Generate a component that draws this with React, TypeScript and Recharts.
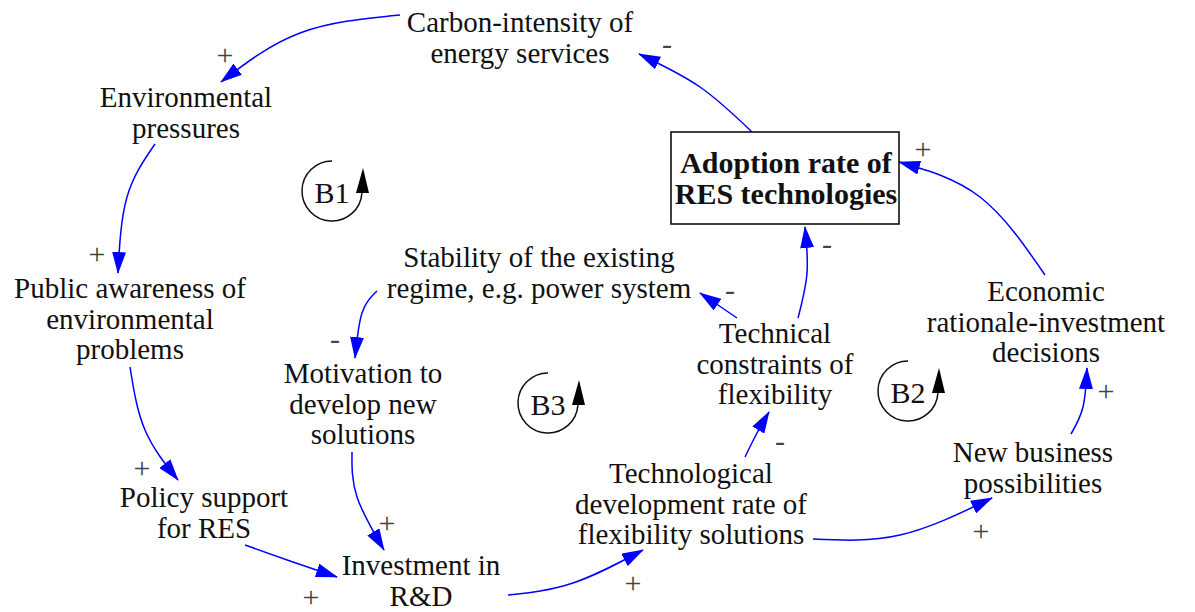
// causal loop diagram drawn on hidden number axes

import { ComposedChart, Line, Scatter, XAxis, YAxis } from "recharts";

const W = 1195;
const H = 612;

// text nodes: x = centre, y = baseline of first line (pixel-like units)
const nodes = [
  { id: "carbon", x: 520, y: 32, lines: ["Carbon-intensity of", "energy services"] },
  { id: "env", x: 186, y: 107, lines: ["Environmental", "pressures"] },
  { id: "public", x: 130, y: 298, lines: ["Public awareness of", "environmental", "problems"] },
  { id: "policy", x: 204, y: 507, lines: ["Policy support", "for RES"] },
  { id: "invest", x: 421, y: 575, lines: ["Investment in", "R&D"] },
  { id: "techdev", x: 691, y: 483, lines: ["Technological", "development rate of", "flexibility solutions"] },
  { id: "business", x: 1033, y: 462, lines: ["New business", "possibilities"] },
  { id: "economic", x: 1046, y: 301, lines: ["Economic", "rationale-investment", "decisions"] },
  { id: "constraints", x: 775, y: 343, lines: ["Technical", "constraints of", "flexibility"] },
  { id: "stability", x: 539, y: 267, lines: ["Stability of the existing", "regime, e.g. power system"] },
  { id: "motivation", x: 363, y: 383, lines: ["Motivation to", "develop new", "solutions"] },
];

const mainNode = [{ x: 786, y: 173, lines: ["Adoption rate of", "RES technologies"] }];

// links: start, a point on the curve, arrow tip
const links = [
  { id: "carbon-env", pts: [[400, 15], [300, 33], [221, 82]] },
  { id: "env-public", pts: [[155, 144], [127, 197], [118, 273]] },
  { id: "public-policy", pts: [[130, 367], [145, 430], [178, 480]] },
  { id: "policy-invest", pts: [[245, 545], [290, 561], [337, 577]] },
  { id: "invest-techdev", pts: [[508, 595], [573, 583], [643, 550]] },
  { id: "motivation-invest", pts: [[352, 452], [357, 497], [384, 550]] },
  { id: "stability-motivation", pts: [[377, 291], [362, 313], [355, 358]] },
  { id: "constraints-stability", pts: [[737, 318], [718, 305], [700, 293]] },
  { id: "constraints-adoption", pts: [[798, 318], [807, 273], [805, 227]] },
  { id: "techdev-constraints", pts: [[745, 457], [757, 433], [769, 412]] },
  { id: "techdev-business", pts: [[813, 539], [900, 535], [992, 498]] },
  { id: "business-economic", pts: [[1071, 434], [1083, 407], [1087, 368]] },
  { id: "economic-adoption", pts: [[1045, 275], [980, 197], [899, 162]] },
  { id: "adoption-carbon", pts: [[752, 132], [700, 87], [639, 54]] },
];

const signs = [
  { x: 225, y: 54, s: "+" },
  { x: 97, y: 253, s: "+" },
  { x: 142, y: 467, s: "+" },
  { x: 311, y: 596, s: "+" },
  { x: 633, y: 582, s: "+" },
  { x: 387, y: 522, s: "+" },
  { x: 335, y: 338, s: "-" },
  { x: 730, y: 289, s: "-" },
  { x: 827, y: 243, s: "-" },
  { x: 780, y: 440, s: "-" },
  { x: 981, y: 530, s: "+" },
  { x: 1106, y: 390, s: "+" },
  { x: 923, y: 148, s: "+" },
  { x: 667, y: 43, s: "-" },
];

const loops = [
  { x: 332, y: 191, name: "B1" },
  { x: 548, y: 403, name: "B3" },
  { x: 908, y: 391, name: "B2" },
];

const FONT = "'Liberation Serif', 'Times New Roman', serif";
const LH = 30.5;

function NodeShape(props: any) {
  const { cx, cy, payload } = props;
  return (
    <text x={cx} y={cy} textAnchor="middle" fontFamily={FONT} fontSize={29} fill="#111">
      {payload.lines.map((l: string, i: number) => (
        <tspan key={i} x={cx} dy={i === 0 ? 0 : LH}>
          {l}
        </tspan>
      ))}
    </text>
  );
}

function MainShape(props: any) {
  const { cx, cy, payload } = props;
  return (
    <g>
      <rect x={cx - 115} y={cy - 41} width={228} height={92} fill="#fff" stroke="#111" strokeWidth={1.6} />
      <text x={cx} y={cy} textAnchor="middle" fontFamily={FONT} fontSize={30} fontWeight="bold" fill="#111">
        {payload.lines.map((l: string, i: number) => (
          <tspan key={i} x={cx} dy={i === 0 ? 0 : 31}>
            {l}
          </tspan>
        ))}
      </text>
    </g>
  );
}

function SignShape(props: any) {
  const { cx, cy, payload } = props;
  return (
    <text x={cx} y={cy} textAnchor="middle" dominantBaseline="central" fontFamily={FONT} fontSize={30} fill="#444">
      {payload.s}
    </text>
  );
}

function LoopShape(props: any) {
  const { cx, cy, payload } = props;
  const r = 30;
  const ex = cx + r * Math.cos(0.07);
  const ey = cy + r * Math.sin(0.07);
  return (
    <g>
      <path d={`M${cx},${cy - r} A${r},${r} 0 1 0 ${ex},${ey}`} fill="none" stroke="#111" strokeWidth={1.5} />
      <path d={`M${cx + 24},${cy + 2} L${cx + 31},${cy - 23} L${cx + 37},${cy + 2} Z`} fill="#000" />
      <text x={cx} y={cy + 1} textAnchor="middle" dominantBaseline="central" fontFamily={FONT} fontSize={30} fill="#111">
        {payload.name}
      </text>
    </g>
  );
}

export default function App() {
  return (
    <div style={{ width: W, height: H, position: "relative", background: "#fff" }}>
      <style>{"body{margin:0}"}</style>
      <svg width={0} height={0} style={{ position: "absolute" }}>
        <defs>
          <marker
            id="blueHead"
            markerUnits="userSpaceOnUse"
            viewBox="0 0 22 14"
            markerWidth={22}
            markerHeight={14}
            refX={21}
            refY={7}
            orient="auto"
          >
            <path d="M0,0 L22,7 L0,14 Z" fill="#0000ff" />
          </marker>
        </defs>
      </svg>
      <ComposedChart width={W} height={H} margin={{ top: 0, right: 0, bottom: 0, left: 0 }}>
        <XAxis type="number" dataKey="x" domain={[0, W]} hide allowDataOverflow />
        <YAxis type="number" dataKey="y" domain={[0, H]} reversed hide allowDataOverflow />
        {links.map((lk) => (
          <Line
            key={lk.id}
            data={lk.pts.map(([x, y]) => ({ x, y }))}
            dataKey="y"
            type="natural"
            stroke="#0000ff"
            strokeWidth={1.5}
            dot={false}
            activeDot={false}
            markerEnd="url(#blueHead)"
            isAnimationActive={false}
          />
        ))}
        <Scatter data={nodes} dataKey="y" shape={NodeShape} isAnimationActive={false} />
        <Scatter data={mainNode} dataKey="y" shape={MainShape} isAnimationActive={false} />
        <Scatter data={signs} dataKey="y" shape={SignShape} isAnimationActive={false} />
        <Scatter data={loops} dataKey="y" shape={LoopShape} isAnimationActive={false} />
      </ComposedChart>
    </div>
  );
}
